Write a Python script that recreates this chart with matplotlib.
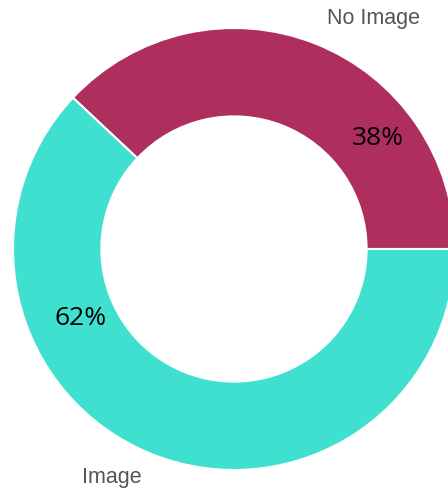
import numpy as np
import matplotlib.pyplot as plt

# Share of posts with and without an image
labels = ['No Image', 'Image']
shares = [38, 62]
colors = ['#AE2F5E', '#40E0D0']

# where each text sits, as (angle in degrees, radius relative to the ring)
pct_pos = [(37.6, 0.82), (204.3, 0.76)]
name_pos = [(58.8, 1.22), (241.9, 1.17)]

fig = plt.figure(figsize=(4.48, 4.9), dpi=100)
ax = fig.add_axes([0, 0, 1, 1])

ax.pie(shares, colors=colors, startangle=0, counterclock=True, radius=1,
       wedgeprops=dict(width=0.4, edgecolor='white', linewidth=1.5))

for share, (ang, r) in zip(shares, pct_pos):
    t = np.deg2rad(ang)
    ax.text(r * np.cos(t), r * np.sin(t), f'{share}%', ha='center', va='center',
            fontsize=19, family='Open Sans', color='black')

for name, (ang, r) in zip(labels, name_pos):
    t = np.deg2rad(ang)
    ax.text(r * np.cos(t), r * np.sin(t), name, ha='center', va='center',
            fontsize=15.5, family='Liberation Sans', color='#555555')

# ring is centred at (234, 241) px from bottom-left with radius 221 px
R = 221
ax.set_xlim(-234 / R, (448 - 234) / R)
ax.set_ylim(-241 / R, (490 - 241) / R)
ax.set_aspect('equal')
ax.axis('off')

fig.savefig('out.png', dpi=100)
